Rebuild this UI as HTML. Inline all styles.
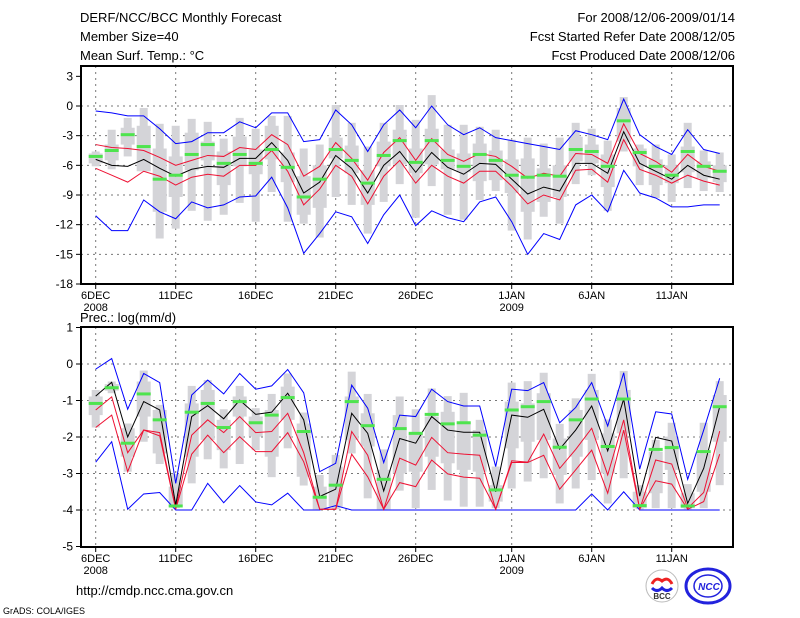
<!DOCTYPE html>
<html><head><meta charset="utf-8"><style>
body{margin:0;background:#fff;width:800px;height:618px;overflow:hidden}
svg{display:block;font-family:"Liberation Sans",sans-serif}
</style></head><body>
<svg id="c" width="800" height="618">
<g font-size="13" fill="#000">
<text x="80" y="22">DERF/NCC/BCC Monthly Forecast</text>
<text x="80" y="41">Member Size=40</text>
<text x="80" y="60">Mean Surf. Temp.: °C</text>
<text x="735" y="22" text-anchor="end">For 2008/12/06-2009/01/14</text>
<text x="735" y="41" text-anchor="end">Fcst Started Refer Date 2008/12/05</text>
<text x="735" y="60" text-anchor="end">Fcst Produced Date 2008/12/06</text>
<text x="80" y="322">Prec.: log(mm/d)</text>
<text x="76" y="595">http://cmdp.ncc.cma.gov.cn</text>
</g>
<text x="3" y="614" font-size="9">GrADS: COLA/IGES</text>
<g>
<circle cx="662" cy="586" r="16" fill="#fff" stroke="#bbb"/>
<path d="M652 584 q4 -8 10 -3 q6 -5 10 3" fill="none" stroke="#e22" stroke-width="3"/>
<path d="M652 588 q5 5 10 0 q5 5 10 0" fill="none" stroke="#22d" stroke-width="3"/>
<text x="662" y="599" font-size="8" text-anchor="middle" font-weight="bold" fill="#333">BCC</text>
</g>
<g>
<ellipse cx="708" cy="586" rx="22" ry="17" fill="none" stroke="#22d" stroke-width="3"/>
<ellipse cx="708" cy="586" rx="14" ry="11" fill="none" stroke="#22d" stroke-width="1.5"/>
<text x="709" y="590" font-size="10" text-anchor="middle" font-weight="bold" font-style="italic" fill="#22d">NCC</text>
</g>
</svg>
<script>
const days=['6DEC','','','','','11DEC','','','','','16DEC','','','','','21DEC','','','','','26DEC','','','','','','1JAN','','','','','6JAN','','','','','11JAN','','',''];
const years={0:'2008',26:'2009'};
// Temperature panel
const tMean=[-5.4,-6,-6.1,-5.4,-6.3,-7.1,-6.4,-6.1,-6.2,-5.3,-5.3,-3.7,-5.5,-8.8,-7.7,-5,-6.3,-8.8,-6,-4.6,-6.7,-4.7,-6.2,-6.9,-5.8,-5.9,-7.4,-8.9,-8.2,-8.6,-5.8,-5.8,-6.8,-2.6,-5.8,-6.6,-7.4,-6,-7,-7.4];
const tRedHi=[-3.9,-4.2,-4.3,-4.5,-5.2,-6,-5.5,-5,-5.1,-4.2,-4.4,-2.9,-3.9,-7.1,-6.1,-3.7,-5.3,-7.5,-4.7,-3.2,-5.5,-3.3,-4.9,-5.6,-4.8,-5.1,-6.1,-7.3,-6.8,-7.1,-4.8,-4.9,-5.8,-1.8,-4.8,-5.6,-6.7,-4.9,-6.1,-6.6];
const tRedLo=[-6.3,-7,-7.7,-6.6,-7.1,-8,-7.2,-6.9,-7.1,-6,-6,-4.5,-6.6,-10,-8.4,-6,-7.1,-9.9,-7.1,-5.5,-7.8,-6,-7.1,-7.8,-6.6,-6.6,-8.1,-9.9,-9,-9.5,-6.5,-6.4,-7.7,-3.4,-6.4,-7,-7.8,-7,-7.6,-8];
const tBlueHi=[-0.5,-0.7,-1,-1,-2.3,-3.8,-3.6,-2.7,-2.7,-1.6,-2.2,-0.7,-0.7,-3.6,-3.4,-0.4,-1.9,-4.6,-1.9,-0.4,-2.2,0,-1.9,-2.9,-2.2,-3.2,-3.5,-3.8,-4.1,-4.4,-2.5,-2.9,-3.4,0.7,-2.9,-4.1,-4.9,-2.4,-4.4,-4.8];
const tBlueLo=[-11.1,-12.6,-12.6,-9.5,-10.7,-11.4,-9.7,-10.3,-10,-9.2,-9.1,-7.2,-10.3,-14.9,-12.9,-10.7,-11.2,-13.9,-11,-9,-12.1,-10.6,-11.3,-11.7,-9.7,-9.2,-11.7,-15,-12.9,-13.5,-10,-9,-10.7,-6.5,-8.8,-9.3,-10.2,-10.2,-10,-10];
const tObs=[-5.1,-4.5,-2.9,-4.1,-7.4,-7,-4.9,-3.9,-5.8,-4.9,-5.8,-4.4,-6.2,-9.2,-7.4,-4.4,-5.5,-7.8,-5,-3.5,-5.7,-3.5,-5.5,-6.1,-4.9,-5.5,-7,-7.2,-7,-7.1,-4.4,-4.6,-6.1,-1.5,-4.7,-6.1,-7,-4.6,-6.1,-6.6];
const tWhiHi=[-4.6,-2.4,-1.2,-0.2,-1.8,-2,-1.3,-1.6,-3.3,-1.2,-2.3,-1,-1,-4.3,-3.9,0.1,-1.7,-4.1,-1.7,0.1,-1.4,1.1,-1.9,-1.9,-2.1,-2.4,-3.4,-3.2,-3.8,-3.2,-1.7,-2.3,-3.5,0.9,-3.9,-3.9,-4.9,-1.7,-4.5,-4.7];
const tWhiLo=[-6.1,-6.4,-5.1,-6.6,-13.4,-12.4,-10.6,-11.6,-11,-9.8,-11.7,-8.7,-11.7,-11.9,-13.3,-9.2,-10,-12.9,-9.7,-7.9,-11.3,-8.1,-11,-11.5,-9.5,-8.6,-12.6,-13.5,-11.2,-11.9,-7.9,-7,-10.6,-4.6,-8,-9.3,-9.7,-8.3,-8.6,-8.7];
const tBoxHi=[-4.8,-3.9,-2.2,-2,-4.3,-5.1,-2.7,-3.6,-4.6,-3.1,-4.4,-2,-4.7,-7.1,-6,-3.2,-4,-6.5,-3.6,-2.4,-4.3,-2.3,-4.4,-4.8,-3.8,-4.5,-5.4,-5.3,-6.3,-6,-3.1,-3.9,-4.9,-0.2,-4.3,-5.4,-6,-4.1,-5.6,-6];
const tBoxLo=[-5.8,-5.5,-3.9,-6.6,-10.7,-9.2,-6.5,-5.5,-8,-6.1,-6.9,-5.4,-7.7,-11,-10.3,-5.3,-6.8,-10,-6.1,-5.9,-6.8,-5.9,-6.4,-6.7,-7.6,-7.5,-8.8,-10.7,-9.7,-9.2,-5.6,-5.8,-8.2,-3.6,-6.1,-8,-7.8,-6.7,-7.3,-7.7];
const tTicks=[3,0,-3,-6,-9,-12,-15,-18];
// Precipitation panel
const pMean=[-0.88,-0.5,-2,-1.03,-1.26,-3.86,-1.44,-1.14,-1.5,-0.99,-1.38,-1.32,-0.8,-1.53,-3.63,-3.43,-1.35,-1.9,-3.48,-2.04,-2.17,-1.44,-1.81,-1.87,-1.87,-3.5,-1.4,-1.46,-1.24,-2.33,-1.81,-1.15,-2.38,-0.96,-3.62,-2.01,-2.11,-3.82,-2.86,-1.17];
const pRedHi=[-1.26,-0.9,-2.43,-1.81,-1.88,-3.95,-1.95,-1.53,-1.88,-1.44,-1.88,-1.85,-1.35,-2.43,-3.98,-3.98,-1.85,-2.5,-3.98,-2.58,-2.77,-2.01,-2.43,-2.47,-2.5,-3.98,-2.65,-2.69,-1.92,-2.86,-2.34,-1.76,-3.04,-1.53,-3.98,-2.63,-2.74,-3.95,-3.52,-1.84];
const pRedLo=[-1.74,-1.4,-2.95,-1.81,-1.97,-3.98,-2.47,-1.95,-2.43,-1.99,-2.4,-2.4,-1.88,-2.68,-3.98,-3.98,-2.47,-3.09,-3.98,-3.25,-3.36,-2.63,-3.01,-3.1,-3.13,-3.98,-2.7,-2.7,-2.5,-3.43,-2.9,-2.36,-3.54,-1.81,-3.98,-3.2,-3.29,-3.98,-3.77,-2.47];
const pBlueHi=[-0.14,0.15,-1.24,-0.26,-0.51,-3.27,-0.85,-0.44,-0.82,-0.26,-0.69,-0.6,-0.15,-0.79,-2.95,-2.72,-0.58,-1.21,-2.7,-1.4,-1.44,-0.69,-1.03,-1.15,-1.15,-2.81,-0.69,-0.73,-0.51,-1.61,-1.19,-0.51,-1.7,-0.24,-2.88,-1.31,-1.37,-3.16,-1.81,-0.39];
const pBlueLo=[-2.69,-2.13,-3.98,-3.56,-3.52,-4,-4,-3.27,-3.8,-3.33,-3.78,-3.86,-3.54,-4,-4,-3.88,-4,-4,-4,-4,-4,-4,-4,-4,-4,-4,-4,-4,-4,-4,-4,-3.56,-4,-3.5,-4,-4,-4,-4,-4,-4];
const pObs=[-1.08,-0.65,-2.17,-0.82,-1.53,-3.89,-1.32,-1.08,-1.74,-1.03,-1.61,-1.4,-0.92,-1.85,-3.65,-3.32,-1.03,-1.69,-3.16,-1.77,-1.9,-1.38,-1.64,-1.61,-1.95,-3.45,-1.26,-1.17,-1.03,-2.28,-1.53,-0.96,-2.26,-0.96,-3.88,-2.34,-2.29,-3.89,-2.4,-1.17];
const pWhiHi=[-0.71,-0.48,-1.63,-0.18,-1.12,-3.01,-0.6,-0.44,-1.24,-0.6,-1.21,-0.82,-0.26,-1.33,-3.04,-2.49,-0.21,-0.82,-2.34,-0.89,-1.24,-0.67,-0.88,-0.79,-1.53,-2.81,-0.51,-0.47,-0.24,-1.64,-0.94,-0.27,-1.52,-0.19,-3.32,-2.08,-1.61,-3.29,-1.61,-0.47];
const pWhiLo=[-1.74,-0.8,-2.95,-2.13,-2.74,-3.95,-3.27,-2.61,-2.86,-2.74,-2.36,-3.1,-2.31,-3.33,-3.98,-3.98,-2.45,-3.68,-3.98,-3.47,-3.95,-3.45,-3.74,-3.91,-3.91,-3.95,-3.41,-3.22,-3.13,-3.82,-3.41,-3.18,-3.82,-3.13,-3.98,-3.95,-3.95,-3.98,-3.95,-3.32];
const pBoxHi=[-0.89,-0.55,-1.76,-0.48,-1.26,-3.36,-1.08,-0.71,-1.53,-0.89,-1.44,-1.26,-0.62,-1.63,-3.36,-2.81,-0.89,-1.35,-2.9,-1.4,-1.9,-1.44,-1.31,-1.58,-1.81,-3.32,-1.03,-1.08,-0.8,-2.04,-1.26,-0.71,-1.9,-0.71,-3.5,-2.4,-1.99,-3.54,-2.45,-0.85];
const pBoxLo=[-1.4,-0.73,-2.54,-1.44,-2.45,-3.91,-2.54,-2.08,-2.36,-1.44,-1.99,-2.54,-1.53,-3.09,-3.98,-3.91,-2.08,-2.26,-3.98,-3,-2.95,-2.54,-2.72,-2.9,-2.95,-3.77,-2.31,-2.13,-2.08,-3.04,-2.54,-2.08,-3,-1.9,-3.95,-3.54,-2.9,-3.95,-3.5,-2.13];
const pTicks=[1,0,-1,-2,-3,-4,-5];

const NS='http://www.w3.org/2000/svg';
const svg=document.getElementById('c');
function mk(tag,attrs,parent){const e=document.createElementNS(NS,tag);for(const k in attrs)e.setAttribute(k,attrs[k]);(parent||svg).appendChild(e);return e;}
const X0=81,X1=733;
function xs(d){return 95.7+16*d;}

function panel(name,top,bot,vTop,vBot,ticks,whiHi,whiLo,boxHi,boxLo,series,obs,yAxisTop,yAxisBot){
  const ys=v=>yAxisTop.y+(v-yAxisTop.v)*(yAxisBot.y-yAxisTop.y)/(yAxisBot.v-yAxisTop.v);
  const g=mk('g',{});
  
  
  ticks.forEach(t=>{
    const y=ys(t);
    if(t!==ticks[0]&&t!==ticks[ticks.length-1]){
      const l=mk('line',{x1:X0,x2:X1,y1:y,y2:y,stroke:'#777','stroke-dasharray':'2,4','stroke-width':1},g);
      
      
    }
    const tk=mk('line',{x1:X0-5,x2:X0,y1:y,y2:y,stroke:'#000','stroke-width':1},g);
    
    
    const tx=mk('text',{x:X0-8,y:y+4,'font-size':12,'text-anchor':'end'},g);
    tx.textContent=t;
    
    
  });
  days.forEach((lab,d)=>{
    if(!lab)return;
    const x=xs(d);
    const l=mk('line',{x1:x,x2:x,y1:top,y2:bot,stroke:'#777','stroke-dasharray':'2,4','stroke-width':1},g);
    
    
    const tk=mk('line',{x1:x,x2:x,y1:bot,y2:bot+5,stroke:'#000'},g);
    
    
    const tx=mk('text',{x:x,y:bot+15,'font-size':11,'text-anchor':'middle'},g);
    tx.textContent=lab;
    
    
    if(years[d]){
      const yt=mk('text',{x:x,y:bot+27,'font-size':11,'text-anchor':'middle'},g);
      yt.textContent=years[d];
      
      
    }
  });
  days.forEach((_,d)=>{
    const x=xs(d);
    const w=mk('rect',{x:x-4,y:ys(whiHi[d]),width:8,height:Math.max(1,ys(whiLo[d])-ys(whiHi[d])),fill:'#d4d4d8'},g);
    
    
    const b=mk('rect',{x:x-7,y:ys(boxHi[d]),width:14,height:Math.max(1,ys(boxLo[d])-ys(boxHi[d])),fill:'#d4d4d8'},g);
    
    
  });
  series.forEach(s=>{
    const p=mk('polyline',{points:s.v.map((v,d)=>xs(d)+','+ys(v)).join(' '),fill:'none',stroke:s.c,'stroke-width':1},g);
    
    
  });
  obs.forEach((v,d)=>{
    const r=mk('rect',{x:xs(d)-7,y:ys(v)-1.5,width:14,height:3,fill:'#4ee44e'},g);
    
    
  });
  const f=mk('rect',{x:X0,y:top,width:X1-X0,height:bot-top,fill:'none',stroke:'#000','stroke-width':2},g);
  
  
}
panel('temperature',66,284,3,-18,tTicks,tWhiHi,tWhiLo,tBoxHi,tBoxLo,
 [{n:'upper-blue-line',v:tBlueHi,c:'#0000ff'},{n:'lower-blue-line',v:tBlueLo,c:'#0000ff'},{n:'upper-red-line',v:tRedHi,c:'#ee1133'},{n:'lower-red-line',v:tRedLo,c:'#ee1133'},{n:'mean-line',v:tMean,c:'#000'}],
 tObs,{v:0,y:106},{v:-18,y:284});
panel('precipitation',327,547,1,-5,pTicks,pWhiHi,pWhiLo,pBoxHi,pBoxLo,
 [{n:'upper-blue-line',v:pBlueHi,c:'#0000ff'},{n:'lower-blue-line',v:pBlueLo,c:'#0000ff'},{n:'upper-red-line',v:pRedHi,c:'#ee1133'},{n:'lower-red-line',v:pRedLo,c:'#ee1133'},{n:'mean-line',v:pMean,c:'#000'}],
 pObs,{v:0,y:364},{v:-5,y:546.5});
</script>
</body></html>
